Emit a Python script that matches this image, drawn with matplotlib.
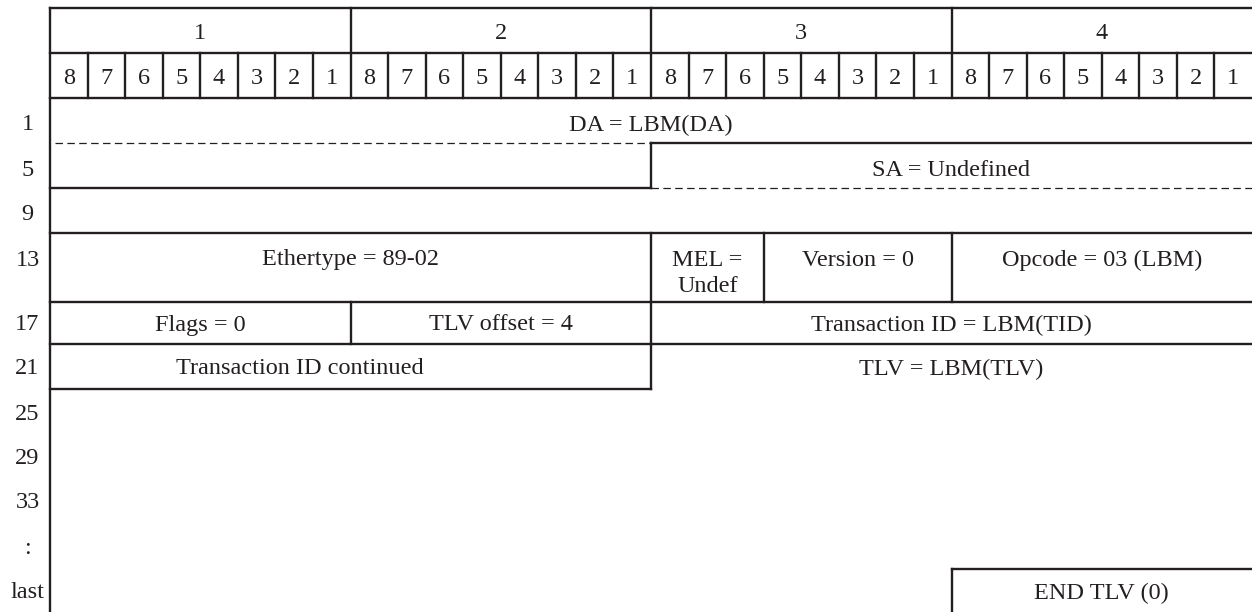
import matplotlib
matplotlib.use("Agg")
import matplotlib.pyplot as plt

# header and row labels
byte_labels = ["1", "2", "3", "4"]
bit_labels = ["8", "7", "6", "5", "4", "3", "2", "1"]
offset_labels = ["1", "5", "9", "13", "17", "21", "25", "29", "33", ":", "last"]

# fields: text, first bit, number of bits
field_text = ["DA = LBM(DA)", "SA = Undefined", "Ethertype = 89-02", "MEL =\nUndef",
              "Version = 0", "Opcode = 03 (LBM)", "Flags = 0", "TLV offset = 4",
              "Transaction ID = LBM(TID)", "Transaction ID continued",
              "TLV = LBM(TLV)", "END TLV (0)"]
field_bit = [0, 16, 0, 16, 19, 24, 0, 8, 16, 0, 16, 24]
field_len = [32, 16, 16, 3, 5, 8, 8, 8, 16, 13.3, 16, 8]

# layout (pixels, y downwards)
X0 = 50
BIT = (1252 - X0) / 32
y_top, y_hdr, y_bits = 8, 53, 98
row_edges = [98, 143, 188, 233, 302, 344, 389]
label_y = [122, 167, 212, 257, 322, 366, 411, 455, 500, 545, 590]
field_y = [122, 167, 257, 257, 257, 257, 322, 322, 322, 366, 366, 590]
end_top = 569
LINE_GAP = 26
DY = 3  # nudge text down to match baseline

INK = "#231f20"
LW = 1.7
plt.rcParams["font.family"] = ["Liberation Serif", "DejaVu Serif"]

fig = plt.figure(figsize=(12.52, 6.12), dpi=100)
ax = fig.add_axes([0, 0, 1, 1])
ax.set_xlim(-X0 / BIT, 32)
ax.set_ylim(612, 0)
ax.axis("off")


def hline(y, b0, b1, dashed=False):
    if dashed:
        ax.plot([b0, b1], [y, y], color=INK, lw=0.9, linestyle=(0, (6, 3.5)),
                solid_capstyle="butt")
    else:
        ax.plot([b0, b1], [y, y], color=INK, lw=LW, solid_capstyle="projecting")


def vline(b, y0, y1):
    ax.plot([b, b], [y0, y1], color=INK, lw=LW, solid_capstyle="projecting")


def label(x, y, s):
    ax.text(x, y + DY, s, ha="center", va="center", fontsize=FS, color=INK)


FS = 17.5
# header rows
hline(y_top, 0, 32.2)
hline(y_hdr, 0, 32.2)
hline(y_bits, 0, 32.2)
vline(0, y_top, 612)
for i, lab in enumerate(byte_labels):
    if i > 0:
        vline(i * 8, y_top, y_bits)
    label(i * 8 + 4, (y_top + y_hdr) / 2, lab)
    for j, bl in enumerate(bit_labels):
        b = i * 8 + j
        if j > 0:
            vline(b, y_hdr, y_bits)
        label(b + 0.5, (y_hdr + y_bits) / 2, bl)

# DA / SA rows
hline(row_edges[1], 0.13, 16, dashed=True)
hline(row_edges[1], 16, 32.2)
vline(16, row_edges[1], row_edges[2])
hline(row_edges[2], 0, 16)
hline(row_edges[2], 16, 32.2, dashed=True)
hline(row_edges[3], 0, 32.2)

# row 13
vline(16, row_edges[3], row_edges[4])
vline(19, row_edges[3], row_edges[4])
vline(24, row_edges[3], row_edges[4])
hline(row_edges[4], 0, 32.2)

# row 17
vline(8, row_edges[4], row_edges[5])
vline(16, row_edges[4], row_edges[5])
hline(row_edges[5], 0, 32.2)

# row 21
vline(16, row_edges[5], row_edges[6])
hline(row_edges[6], 0, 16)

# END TLV box
hline(end_top, 24, 32.2)
vline(24, end_top, 615)

for lab, y in zip(offset_labels, label_y):
    label(-(X0 - 27.5) / BIT, y, lab)

for txt, b, n, y in zip(field_text, field_bit, field_len, field_y):
    for k, line in enumerate(txt.split("\n")):
        label(b + n / 2, y + k * LINE_GAP, line)

fig.savefig("out.png", dpi=100)
